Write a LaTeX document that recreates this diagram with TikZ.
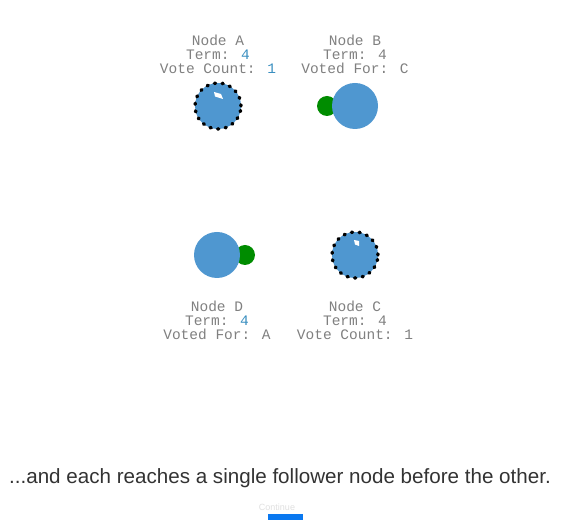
\documentclass[tikz,border=0pt]{standalone}
\usepackage{fontspec}
\setmainfont{Liberation Sans}
\newfontfamily\monofont{Liberation Mono}
\definecolor{nodeblue}{HTML}{4F97D0}
\definecolor{voteg}{HTML}{008C00}
\definecolor{labgray}{HTML}{808080}
\definecolor{valblue}{HTML}{3A8FC0}
\definecolor{captxt}{HTML}{333333}
\definecolor{barblue}{HTML}{0A78F0}
\begin{document}
\begin{tikzpicture}[x=1pt,y=-1pt,
  srv/.style={circle,fill=nodeblue,minimum size=46pt,inner sep=0pt},
  cand/.style={srv,draw=black,line width=3.4pt,line cap=round,dash pattern=on 1.2pt off 6.5pt},
  vote/.style={circle,fill=voteg,minimum size=20pt,inner sep=0pt},
  lab/.style={font=\monofont\fontsize{14.5}{14}\selectfont,text=labgray,align=center,inner sep=0pt},
  val/.style={text=valblue}]
\useasboundingbox (0,0) rectangle (582,521);
\fill[white] (0,0) rectangle (582,521);
% Node A
\node[lab] (la) at (218,54) {Node A\\Term: {\color{valblue}4}\\Vote Count: {\color{valblue}1}};
\node[cand] (a) at (218,106) {};
\fill[white] (a.center) ++(-4,-14) -- ++(7,2) -- ++(2,5) -- ++(-8,-2.5) -- cycle;
% Node B
\node[vote] (vb) at (327,106) {};
\node[srv] (b) at (355,106) {};
\node[lab] (lb) at (355,54) {Node B\\Term: 4\\Voted For: C};
% Node D
\node[vote] (vd) at (245,255) {};
\node[srv] (d) at (217,255) {};
\node[lab] (ld) at (217,320) {Node D\\Term: {\color{valblue}4}\\Voted For: A};
% Node C
\node[cand] (c) at (355,255) {};
\fill[white] (c.center) ++(-1,-15) -- ++(5,1) -- ++(0,5) -- ++(-4,-1.5) -- cycle;
\node[lab] (lc) at (355,320) {Node C\\Term: 4\\Vote Count: 1};
% caption
\node[font=\fontsize{20.6}{22}\selectfont,text=captxt,inner sep=0pt] (cap) at (280,478) {...and each reaches a single follower node before the other.};
\node[font=\fontsize{9}{10}\selectfont,text=black!12,inner sep=0pt] (cont) at (277,507) {Continue};
\fill[barblue] (268,514) rectangle (303,520);
\end{tikzpicture}
\end{document}
